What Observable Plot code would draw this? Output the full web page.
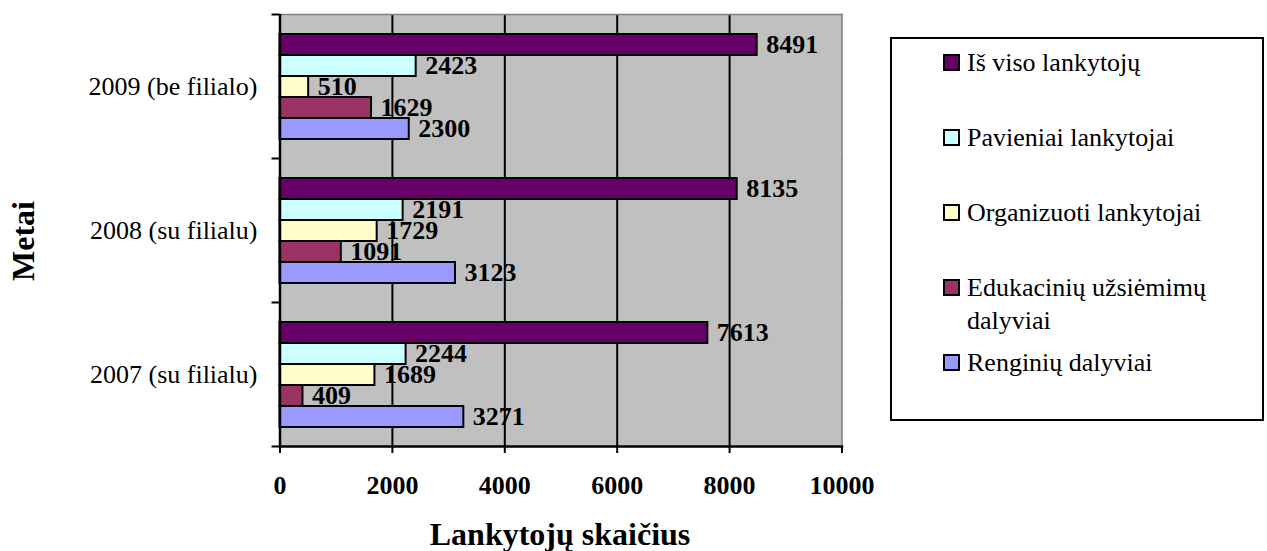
<!DOCTYPE html>
<html><head><meta charset="utf-8">
<script src="https://cdn.jsdelivr.net/npm/d3@7"></script>
<script src="https://cdn.jsdelivr.net/npm/@observablehq/plot@0.6"></script>
<style>
body{margin:0;background:#fff;}
#wrap{position:relative;width:1267px;height:551px;font-family:"Liberation Serif","Times New Roman",serif;color:#000;background:#fff;}
#wrap svg{position:absolute;left:0;top:0;}
.bg{position:absolute;background:#c0c0c0;}
.ttl{position:absolute;font-weight:bold;font-size:32px;white-space:nowrap;line-height:1;}
.lbox{position:absolute;box-sizing:border-box;border:2px solid #000;background:#fff;}
.sw{position:absolute;box-sizing:border-box;width:17px;height:17px;border:2px solid #000;}
.lt{position:absolute;font-size:26px;line-height:33px;width:273px;}
</style></head><body><div id="wrap"></div>
<script>
const years = ["2009 (be filialo)", "2008 (su filialu)", "2007 (su filialu)"];
const series = ["Iš viso lankytojų", "Pavieniai lankytojai", "Organizuoti lankytojai", "Edukacinių užsiėmimų dalyviai", "Renginių dalyviai"];
const colors = ["#660066", "#CCFFFF", "#FFFFCC", "#993366", "#9999FF"];
const totalVisitors = [8491, 8135, 7613];
const individualVisitors = [2423, 2191, 2244];
const organizedVisitors = [510, 1729, 1689];
const educationParticipants = [1629, 1091, 409];
const eventParticipants = [2300, 3123, 3271];
const xTicks = [0, 2000, 4000, 6000, 8000, 10000];
const gridTicks = [2000, 4000, 6000, 8000];

const seriesValues = [totalVisitors, individualVisitors, organizedVisitors, educationParticipants, eventParticipants];
const rows = series.flatMap((s, i) => years.map((y, j) => ({year: y, series: s, value: seriesValues[i][j]})));

const W = 1267, H = 551;
const mL = 279.5, mR = W - 841.5, mT = 14, mB = H - 446;
const bandH = (H - mT - mB) / years.length;

const wrap = document.getElementById("wrap");

// plot-area background (behind the transparent SVG)
const bg = document.createElement("div");
bg.className = "bg";
bg.style.left = mL + "px"; bg.style.top = mT + "px";
bg.style.width = (W - mL - mR) + "px"; bg.style.height = (H - mT - mB) + "px";
wrap.appendChild(bg);

const chart = Plot.plot({
  width: W, height: H,
  marginLeft: mL, marginRight: mR, marginTop: mT, marginBottom: mB,
  style: {fontFamily: '"Liberation Serif","Times New Roman",serif', fontSize: "26px", background: "transparent", overflow: "visible", color: "black"},
  x: {domain: [0, 10000], axis: null},
  y: {domain: series, paddingInner: 0, paddingOuter: 0.8333, axis: null},
  fy: {domain: years, padding: 0, axis: null},
  color: {domain: series, range: colors},
  marks: [
    Plot.ruleX(gridTicks, {stroke: "black", strokeWidth: 2}),
    Plot.frame({anchor: "top", facetAnchor: "top", stroke: "#808080", strokeWidth: 1.5}),
    Plot.frame({anchor: "right", stroke: "#808080", strokeWidth: 1.5}),
    Plot.barX(rows, {x: "value", y: "series", fy: "year", fill: "series", stroke: "black", strokeWidth: 2}),
    Plot.text(rows, {x: "value", y: "series", fy: "year", text: d => String(d.value), dx: 9, textAnchor: "start", fontWeight: "bold", fontSize: 26, fill: "black"}),
    Plot.ruleX([0], {stroke: "black", strokeWidth: 2.5}),
    Plot.frame({anchor: "bottom", facetAnchor: "bottom", stroke: "black", strokeWidth: 2.5}),
    Plot.axisX({ticks: xTicks, tickFormat: d => String(d), tickSize: 7, tickPadding: 22, fontWeight: "bold", fontSize: 26, stroke: "black", strokeWidth: 2, fill: "black", label: null, facetAnchor: "bottom"}),
    Plot.axisFy({anchor: "left", tickSize: 0, tickPadding: 22.5, fontSize: 26, fill: "black", label: null}),
    Plot.axisFy({anchor: "left", text: null, tickSize: 8, dy: -bandH / 2, stroke: "black", strokeWidth: 2, label: null}),
    Plot.axisFy({anchor: "left", ticks: [years[years.length - 1]], text: null, tickSize: 8, dy: bandH / 2, stroke: "black", strokeWidth: 2, label: null})
  ]
});

wrap.appendChild(chart);

const xt = document.createElement("div");
xt.className = "ttl";
xt.textContent = "Lankytojų skaičius";
xt.style.left = "560px"; xt.style.top = "518px"; xt.style.transform = "translateX(-50%)";
wrap.appendChild(xt);

const yt = document.createElement("div");
yt.className = "ttl";
yt.textContent = "Metai";
yt.style.left = "23px"; yt.style.top = "241px"; yt.style.transform = "translate(-50%,-50%) rotate(-90deg)";
wrap.appendChild(yt);

const box = document.createElement("div");
box.className = "lbox";
box.style.left = "890px"; box.style.top = "37px"; box.style.width = "374px"; box.style.height = "384px";
wrap.appendChild(box);

series.forEach((s, i) => {
  const cy = 62 + 75 * i;
  const sw = document.createElement("div");
  sw.className = "sw";
  sw.style.left = "943px"; sw.style.top = (cy - 8.5) + "px"; sw.style.background = colors[i];
  wrap.appendChild(sw);
  const t = document.createElement("div");
  t.className = "lt";
  t.textContent = s;
  t.style.left = "967px"; t.style.top = (cy - 16.5) + "px";
  wrap.appendChild(t);
});
</script></body></html>
